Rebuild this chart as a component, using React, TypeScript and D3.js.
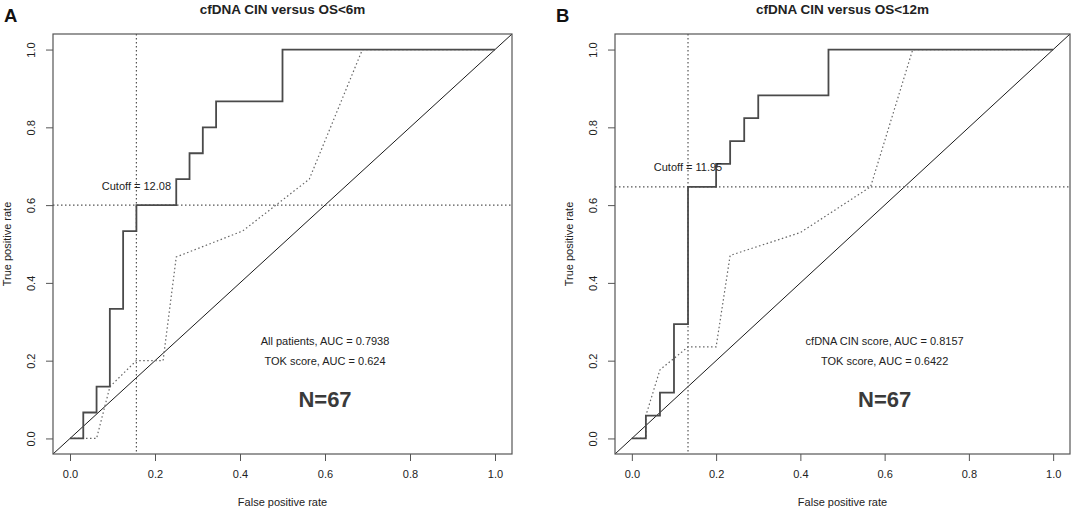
import { useEffect, useRef } from "react";
import * as d3 from "d3";

// ROC points (fpr, tpr)
const cinFprA = [0, 0.03125, 0.0625, 0.09375, 0.125, 0.15625, 0.25, 0.28125, 0.3125, 0.34375, 0.5, 1];
const cinTprA = [0, 0.0667, 0.1333, 0.3333, 0.5333, 0.6, 0.6667, 0.7333, 0.8, 0.8667, 1, 1];
const tokFprA = [0, 0.03125, 0.0625, 0.094, 0.156, 0.219, 0.25, 0.406, 0.563, 0.688, 1];
const tokTprA = [0, 0, 0, 0.1333, 0.2, 0.2, 0.4667, 0.5333, 0.6667, 1, 1];

const cinFprB = [0, 0.0333, 0.0667, 0.1, 0.1333, 0.2, 0.2333, 0.2667, 0.3, 0.4667, 1];
const cinTprB = [0, 0.0588, 0.1176, 0.2941, 0.6471, 0.7059, 0.7647, 0.8235, 0.8824, 1, 1];
const tokFprB = [0, 0.0333, 0.0333, 0.0667, 0.1333, 0.2, 0.2333, 0.4, 0.5667, 0.6667, 1];
const tokTprB = [0, 0, 0.0588, 0.1765, 0.2353, 0.2353, 0.4706, 0.5294, 0.6471, 1, 1];

const cutoffsX = [0.15625, 0.1333];
const cutoffsY = [0.6, 0.6471];
const cutoffLabels = ["Cutoff = 12.08", "Cutoff = 11.95"];
const panelLetters = ["A", "B"];
const titles = ["cfDNA CIN versus OS<6m", "cfDNA CIN versus OS<12m"];
const aucLines1 = ["All patients, AUC = 0.7938", "cfDNA CIN score, AUC = 0.8157"];
const aucLines2 = ["TOK score, AUC = 0.624", "TOK score, AUC = 0.6422"];
const sampleSize = "N=67";
const ticks = [0, 0.2, 0.4, 0.6, 0.8, 1.0];

const FONT = "'Liberation Sans', Arial, sans-serif";

export default function App() {
  const svgRef = useRef<SVGSVGElement>(null);

  useEffect(() => {
    const svg = d3.select(svgRef.current);
    svg.selectAll("*").remove();

    const panels = [
      { left: 53, right: 512, letterX: 4, cinF: cinFprA, cinT: cinTprA, tokF: tokFprA, tokT: tokTprA },
      { left: 615, right: 1070, letterX: 556, cinF: cinFprB, cinT: cinTprB, tokF: tokFprB, tokT: tokTprB },
    ];
    const top = 34;
    const bottom = 454;

    panels.forEach((p, i) => {
      const x = d3.scaleLinear().domain([-0.04, 1.04]).range([p.left, p.right]);
      const y = d3.scaleLinear().domain([-0.04, 1.04]).range([bottom, top]);
      const g = svg.append("g").attr("font-family", FONT);
      const cx = (p.left + p.right) / 2;

      g.append("text")
        .attr("x", p.letterX)
        .attr("y", 22)
        .attr("font-size", 18.5)
        .attr("font-weight", "bold")
        .attr("fill", "#111")
        .text(panelLetters[i]);

      g.append("text")
        .attr("x", cx)
        .attr("y", 13.8)
        .attr("text-anchor", "middle")
        .attr("font-size", 13.5)
        .attr("font-weight", "bold")
        .attr("fill", "#222")
        .text(titles[i]);

      // axes
      const xAxis = g
        .append("g")
        .attr("transform", `translate(0,${bottom})`)
        .call(d3.axisBottom(x).tickValues(ticks).tickSize(7).tickFormat(d3.format(".1f")));
      xAxis.select(".domain").remove();
      xAxis.selectAll(".tick line").attr("stroke", "#555");
      xAxis
        .selectAll("text")
        .attr("y", 24)
        .attr("dy", null)
        .attr("font-size", 11)
        .attr("font-family", FONT)
        .attr("fill", "#222");

      const yAxis = g
        .append("g")
        .attr("transform", `translate(${p.left},0)`)
        .call(d3.axisLeft(y).tickValues(ticks).tickSize(7).tickFormat(d3.format(".1f")));
      yAxis.select(".domain").remove();
      yAxis.selectAll(".tick line").attr("stroke", "#555");
      yAxis
        .selectAll("text")
        .attr("x", null)
        .attr("dy", "0.35em")
        .attr("text-anchor", "middle")
        .attr("transform", "translate(-21.5,0) rotate(-90)")
        .attr("font-size", 11)
        .attr("font-family", FONT)
        .attr("fill", "#222");

      g.append("text")
        .attr("x", cx)
        .attr("y", 506)
        .attr("text-anchor", "middle")
        .attr("font-size", 11)
        .attr("fill", "#222")
        .text("False positive rate");

      g.append("text")
        .attr("transform", `translate(${p.left - 45.5},${(top + bottom) / 2}) rotate(-90)`)
        .attr("dy", "0.35em")
        .attr("text-anchor", "middle")
        .attr("font-size", 11)
        .attr("fill", "#222")
        .text("True positive rate");

      // diagonal
      g.append("line")
        .attr("x1", x(-0.04))
        .attr("y1", y(-0.04))
        .attr("x2", x(1.04))
        .attr("y2", y(1.04))
        .attr("stroke", "#1a1a1a")
        .attr("stroke-width", 1);

      // cutoff guides
      g.append("line")
        .attr("x1", x(cutoffsX[i]))
        .attr("x2", x(cutoffsX[i]))
        .attr("y1", top)
        .attr("y2", bottom)
        .attr("stroke", "#555")
        .attr("stroke-width", 1.2)
        .attr("stroke-dasharray", "1.5,2.5");
      g.append("line")
        .attr("x1", p.left)
        .attr("x2", p.right)
        .attr("y1", y(cutoffsY[i]))
        .attr("y2", y(cutoffsY[i]))
        .attr("stroke", "#555")
        .attr("stroke-width", 1.2)
        .attr("stroke-dasharray", "1.5,2.5");

      // TOK score (dotted)
      const tok = d3
        .line<number>()
        .x((d) => x(p.tokF[d]))
        .y((d) => y(p.tokT[d]));
      g.append("path")
        .attr("d", tok(d3.range(p.tokF.length)))
        .attr("fill", "none")
        .attr("stroke", "#666")
        .attr("stroke-width", 1.2)
        .attr("stroke-dasharray", "1.5,2.5");

      // cfDNA CIN (step)
      const cin = d3
        .line<number>()
        .x((d) => x(p.cinF[d]))
        .y((d) => y(p.cinT[d]))
        .curve(d3.curveStepAfter);
      g.append("path")
        .attr("d", cin(d3.range(p.cinF.length)))
        .attr("fill", "none")
        .attr("stroke", "#4a4a4a")
        .attr("stroke-width", 1.8);

      // box
      g.append("rect")
        .attr("x", p.left)
        .attr("y", top)
        .attr("width", p.right - p.left)
        .attr("height", bottom - top)
        .attr("fill", "none")
        .attr("stroke", "#555")
        .attr("stroke-width", 1.2);

      // annotations
      g.append("text")
        .attr("x", x(cutoffsX[i]))
        .attr("y", y(cutoffsY[i] + 0.05))
        .attr("dy", "0.35em")
        .attr("text-anchor", "middle")
        .attr("font-size", 11)
        .attr("fill", "#222")
        .text(cutoffLabels[i]);

      g.append("text")
        .attr("x", x(0.6))
        .attr("y", y(0.25))
        .attr("dy", "0.35em")
        .attr("text-anchor", "middle")
        .attr("font-size", 11)
        .attr("fill", "#222")
        .text(aucLines1[i]);
      g.append("text")
        .attr("x", x(0.6))
        .attr("y", y(0.2))
        .attr("dy", "0.35em")
        .attr("text-anchor", "middle")
        .attr("font-size", 11)
        .attr("fill", "#222")
        .text(aucLines2[i]);
      g.append("text")
        .attr("x", x(0.6))
        .attr("y", y(0.1))
        .attr("dy", "0.35em")
        .attr("text-anchor", "middle")
        .attr("font-size", 22)
        .attr("font-weight", "bold")
        .attr("fill", "#3a3a3a")
        .text(sampleSize);
    });
  }, []);

  return (
    <div style={{ position: "fixed", left: 0, top: 0, background: "#fff" }}>
      <svg ref={svgRef} width={1072} height={510} style={{ display: "block" }} />
    </div>
  );
}
